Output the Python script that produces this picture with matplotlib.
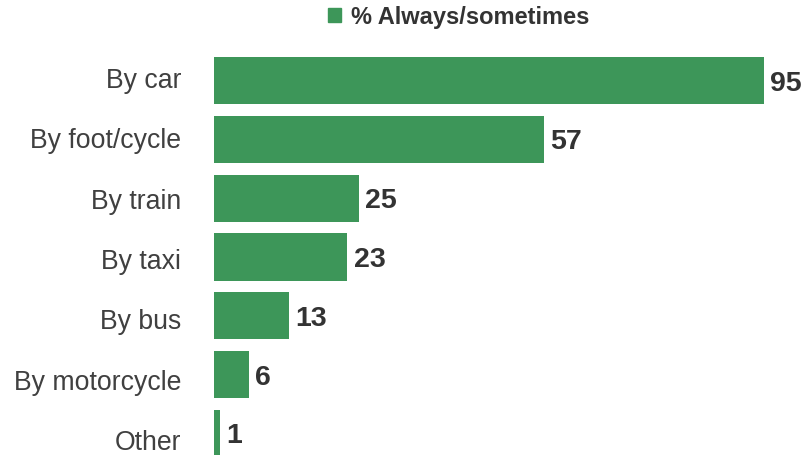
import matplotlib
matplotlib.use("Agg")
import matplotlib.pyplot as plt
from matplotlib.patches import Patch
from matplotlib.transforms import ScaledTranslation

# Travel modes and share answering always/sometimes
modes = ["By car", "By foot/cycle", "By train", "By taxi", "By bus",
         "By motorcycle", "Other"]
values = [95, 57, 25, 23, 13, 6, 1]
series_name = "% Always/sometimes"

GREEN = "#3d9659"
TEXT = "#404040"

plt.rcParams["font.family"] = ["Liberation Sans", "DejaVu Sans"]

W, H = 808, 456
fig = plt.figure(figsize=(W / 100, H / 100), dpi=100)

# axes placed in pixel terms; the last row runs off the bottom edge
left, right = 214, 793
top, bottom = 52.1, 463.9
ax = fig.add_axes([left / W, (H - bottom) / H, (right - left) / W, (bottom - top) / H])

ypos = list(range(len(modes)))
bars = ax.barh(ypos, values, height=0.8, color=GREEN)
ax.set_xlim(0, 100)
ax.set_ylim(len(modes) - 0.5, -0.5)

# value labels, nudged down a couple of pixels
down = ScaledTranslation(0, -2 / 100, fig.dpi_scale_trans)
for bar, v in zip(bars, values):
    ax.text(bar.get_width() + 1.1, bar.get_y() + bar.get_height() / 2, f"{v}",
            ha="left", va="center", fontsize=20.5, fontweight="bold",
            color="#333333", transform=ax.transData + down)

# category labels sit on a slightly wider pitch than the bars
ax.set_yticks([i + (-3.5 + 1.5 * i) / 58.8 for i in ypos])
ax.set_yticklabels(modes, fontsize=19.2, color=TEXT)
ax.tick_params(axis="y", length=0, pad=23.5)
ax.set_xticks([])
for s in ax.spines.values():
    s.set_visible(False)

fig.legend(handles=[Patch(color=GREEN, label=series_name)], loc="center",
           bbox_to_anchor=(458.5 / W, 1 - 17.5 / H), frameon=False,
           prop={"size": 17, "weight": "bold"}, labelcolor="#333333",
           handlelength=0.55, handleheight=0.55, handletextpad=0.4)

fig.savefig("out.png", dpi=100)
